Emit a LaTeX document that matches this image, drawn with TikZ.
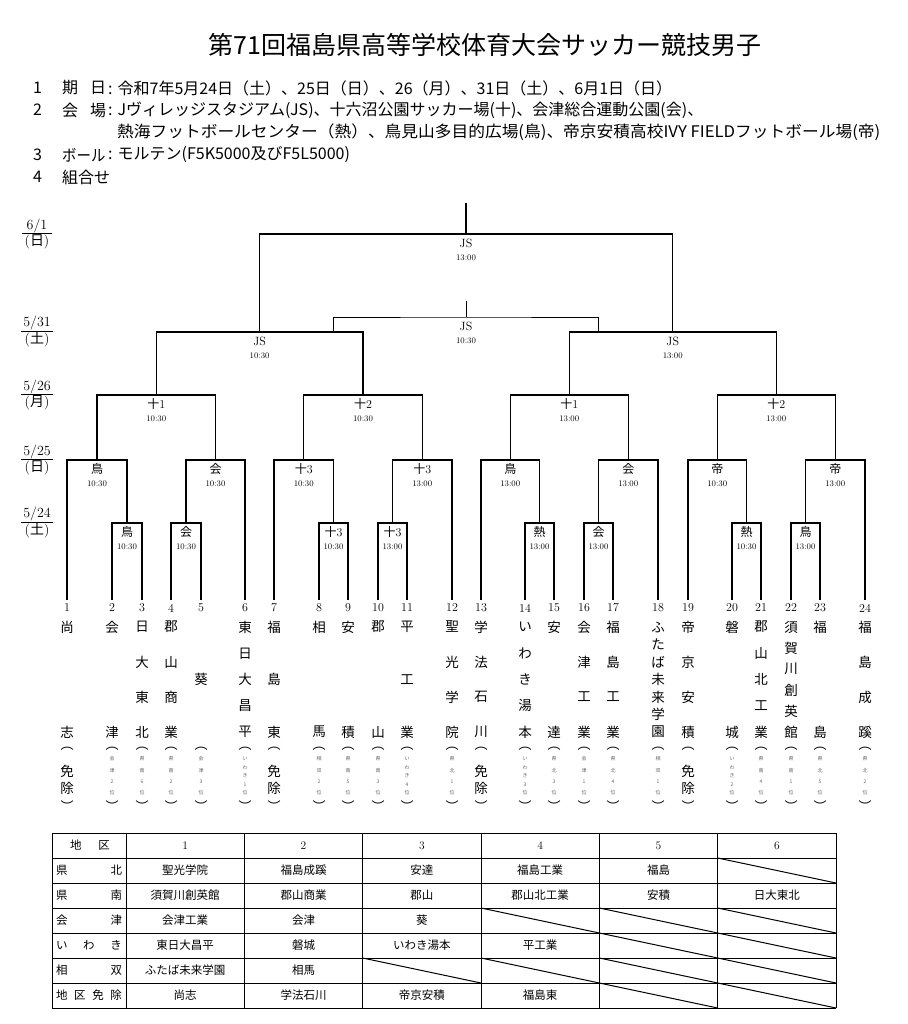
\documentclass[tikz,border=0pt]{standalone}
\usepackage{fontspec}
\newfontfamily\jp{Noto Sans CJK JP}
\usetikzlibrary{calc}
\renewcommand{\arraystretch}{.95}
\setlength{\arrayrulewidth}{.8pt}

\begin{document}
\begin{tikzpicture}[
    x=1pt,y=-1pt,
    br/.style={line width=1.3pt},
    brthin/.style={line width=.8pt},
    tb/.style={line width=1pt},
    venue/.style={font=\fontsize{12}{13}\selectfont,inner sep=0pt},
    tm/.style={font=\fontsize{8.5}{9}\selectfont,inner sep=0pt},
    num/.style={font=\fontsize{12}{13}\selectfont,inner sep=0pt},
    tname/.style={font=\jp\fontsize{13.5}{14}\selectfont,inner sep=0pt},
    note/.style={font=\jp\fontsize{5}{5}\selectfont,inner sep=0pt,text=black!60},
    paren/.style={font=\jp\fontsize{13}{14}\selectfont,inner sep=0pt},
    info/.style={font=\jp\fontsize{16}{18}\selectfont,inner sep=0pt,anchor=west},
    cell/.style={font=\jp\fontsize{11.5}{12}\selectfont,inner sep=0pt},
    datel/.style={font=\fontsize{14}{15}\selectfont,inner sep=0pt}
  ]
    \useasboundingbox (0,0) rectangle (907,1024);
    % header
    \node[font=\jp\fontsize{25}{28}\selectfont,inner sep=0pt] (title) at (485,45) {第71回福島県高等学校体育大会サッカー競技男子};
    \node[info] (n1) at (33,88) {1}; \node[info] (k1) at (62,88) {\makebox[44pt]{期\hfill 日}};
    \node[info] (v1) at (108,88) {:\hspace{5pt}令和7年5月24日（土）、25日（日）、26（月）、31日（土）、6月1日（日）};
    \node[info] (n2) at (33,110) {2}; \node[info] (k2) at (62,110) {\makebox[44pt]{会\hfill 場}};
    \node[info] (v2) at (108,110) {:\hspace{5pt}Jヴィレッジスタジアム(JS)、十六沼公園サッカー場(十)、会津総合運動公園(会)、};
    \node[info] (v2b) at (117,132) {\scalebox{1.045}[1]{熱海フットボールセンター（熱）、鳥見山多目的広場(鳥)、帝京安積高校IVY FIELDフットボール場(帝)}};
    \node[info] (n3) at (33,155) {3}; \node[info] (k3) at (62,155) {\scalebox{.9}[1]{ボール}};
    \node[info] (v3) at (108,155) {:\hspace{5pt}モルテン(F5K5000及びF5L5000)};
    \node[info] (n4) at (33,177) {4}; \node[info] (k4) at (62,177) {組合せ};
    % dates
    \node[datel] (d61) at (37,234) {\begin{tabular}{@{\,}c@{\,}}6/1\\\hline({\jp 日})\end{tabular}};
    \node[datel] (d531) at (37,332) {\begin{tabular}{@{\,}c@{\,}}5/31\\\hline({\jp 土})\end{tabular}};
    \node[datel] (d526) at (37,395) {\begin{tabular}{@{\,}c@{\,}}5/26\\\hline({\jp 月})\end{tabular}};
    \node[datel] (d525) at (37,460) {\begin{tabular}{@{\,}c@{\,}}5/25\\\hline({\jp 日})\end{tabular}};
    \node[datel] (d524) at (37,523) {\begin{tabular}{@{\,}c@{\,}}5/24\\\hline({\jp 土})\end{tabular}};
    % teams
    \foreach \x/\n/\nm/\m/\an [count=\i] in {
      67/2/{尚,志}/2/{免,除}, 112/2/{会,津}/4/{会,津,2,位}, 142/4/{日,大,東,北}/4/{県,南,6,位},
      171/4/{郡,山,商,業}/4/{県,南,2,位}, 201/1/{葵}/4/{会,津,3,位}, 245/5/{東,日,大,昌,平}/5/{い,わ,き,1,位},
      274/3/{福,島,東}/2/{免,除}, 319/2/{相,馬}/4/{相,双,2,位}, 348/2/{安,積}/4/{県,南,5,位},
      378/2/{郡,山}/4/{県,南,3,位}, 407/3/{平,工,業}/5/{い,わ,き,4,位}, 452/4/{聖,光,学,院}/4/{県,北,1,位},
      481/4/{学,法,石,川}/2/{免,除}, 525/5/{い,わ,き,湯,本}/5/{い,わ,き,3,位}, 554/2/{安,達}/4/{県,北,3,位},
      584/4/{会,津,工,業}/4/{会,津,1,位}, 613/4/{福,島,工,業}/4/{県,北,4,位}, 658/7/{ふ,た,ば,未,来,学,園}/4/{相,双,1,位},
      688/4/{帝,京,安,積}/2/{免,除}, 732/2/{磐,城}/5/{い,わ,き,2,位}, 761/5/{郡,山,北,工,業}/4/{県,南,4,位},
      791/6/{須,賀,川,創,英,館}/4/{県,南,1,位}, 820/2/{福,島}/4/{県,北,5,位}, 865/4/{福,島,成,蹊}/4/{県,北,2,位}} {
      \coordinate (t\i) at (\x,600);
      \node[num] (no\i) at (\x,608) {\i};
      \foreach \c [count=\k] in \nm {
        \pgfmathsetmacro\yy{627+(\k-1)*105/max(\n-1,1)+(\n==1)*52.5}
        \node[tname] (nm\i-\k) at (\x,\yy) {\c};
      }
      \node[paren] (po\i) at (\x,749) {︵};
      \node[paren] (pc\i) at (\x,806) {︶};
      \foreach \c [count=\k] in \an {
        \ifnum\m=2
          \node[tname] (an\i-\k) at (\x,{771+(\k-1)*17}) {\c};
        \else
          \node[note] (an\i-\k) at (\x,{759+(\k-1)*34/(\m-1)}) {\c};
        \fi
      }
    }
    % matches
    \foreach \mt/\x/\y in {a1/127/523,a2/186/523,a3/333.5/523,a4/392.5/523,a5/539.5/523,a6/598.5/523,a7/746.5/523,a8/805.5/523,
      b1/97/460,b2/215.5/460,b3/303.75/460,b4/422.25/460,b5/510.25/460,b6/628.25/460,b7/717.25/460,b8/835.25/460,
      c1/156.25/395,c2/363/395,c3/569.25/395,c4/776.25/395,s1/259.6/332,s2/672.75/332,f/466/234}
      \coordinate (\mt) at (\x,\y);
    \coordinate (ftop) at (466,203);
    \coordinate (thl) at (333.5,332); \coordinate (thr) at (598.5,332);
    \coordinate (th) at (466,317); \coordinate (thtop) at (466,301);
    \foreach \l/\mt/\r in {t2/a1/t3,t4/a2/t5,t8/a3/t9,t10/a4/t11,t14/a5/t15,t16/a6/t17,t20/a7/t21,t22/a8/t23,
      t1/b1/a1,a2/b2/t6,t7/b3/a3,a4/b4/t12,t13/b5/a5,a6/b6/t18,t19/b7/a7,a8/b8/t24,
      b1/c1/b2,b3/c2/b4,b5/c3/b6,b7/c4/b8,c1/s1/c2,c3/s2/c4,s1/f/s2}
      \draw[br] (\l) |- (\mt) -| (\r);
    \draw[br] (f) -- (ftop);
    \draw[brthin] (thl) |- (th) -| (thr);
    \draw[brthin] (th) -- (thtop);
    \foreach \mt/\v/\t in {a1/{\jp 鳥}/10:30,a2/{\jp 会}/10:30,a3/{{\jp 十}3}/10:30,a4/{{\jp 十}3}/13:00,
      a5/{\jp 熱}/13:00,a6/{\jp 会}/13:00,a7/{\jp 熱}/10:30,a8/{\jp 鳥}/13:00,
      b1/{\jp 鳥}/10:30,b2/{\jp 会}/10:30,b3/{{\jp 十}3}/10:30,b4/{{\jp 十}3}/13:00,
      b5/{\jp 鳥}/13:00,b6/{\jp 会}/13:00,b7/{\jp 帝}/10:30,b8/{\jp 帝}/13:00,
      c1/{{\jp 十}1}/10:30,c2/{{\jp 十}2}/10:30,c3/{{\jp 十}1}/13:00,c4/{{\jp 十}2}/13:00,
      s1/JS/10:30,s2/JS/13:00,f/JS/13:00,th/JS/10:30} {
      \node[venue] (vn-\mt) at ($(\mt)+(0,9)$) {\v};
      \node[tm] (tm-\mt) at ($(\mt)+(0,24)$) {\t};
    }
    % table
    \foreach \y in {833,858,...,1008} \draw[tb] (52,\y) -- (836,\y);
    \foreach \x in {52,126,244.33,362.67,481,599.33,717.67,836} \draw[tb] (\x,833) -- (\x,1008);
    \node[cell] (hd) at (90,845.5) {\makebox[40pt]{地\hfill 区}};
    \foreach \c in {1,...,6} \node[cell,font=\fontsize{11.5}{12}\selectfont] (h\c) at ({126+118.333*(\c-.5)},845.5) {\c};
    \foreach \lab [count=\r] in {{県\hfill 北},{県\hfill 南},{会\hfill 津},{い\hfill わ\hfill き},{相\hfill 双},{地\hfill 区\hfill 免\hfill 除}}
      \node[cell] (rl\r) at (89,{845.5+25*\r}) {\makebox[66pt]{\lab}};
    \foreach \r/\c/\txt in {1/1/聖光学院,1/2/福島成蹊,1/3/安達,1/4/福島工業,1/5/福島,
      2/1/須賀川創英館,2/2/郡山商業,2/3/郡山,2/4/郡山北工業,2/5/安積,2/6/日大東北,
      3/1/会津工業,3/2/会津,3/3/葵,4/1/東日大昌平,4/2/磐城,4/3/いわき湯本,4/4/平工業,
      5/1/ふたば未来学園,5/2/相馬,6/1/尚志,6/2/学法石川,6/3/帝京安積,6/4/福島東}
      \node[cell] (c\r-\c) at ({126+118.333*(\c-.5)},{845.5+25*\r}) {\txt};
    \foreach \r/\c in {1/6,3/4,3/5,3/6,4/5,4/6,5/3,5/4,5/5,5/6,6/5,6/6}
      \draw[tb] ({126+118.333*(\c-1)},{833+25*\r}) -- ({126+118.333*\c},{858+25*\r});
\end{tikzpicture}
\end{document}
